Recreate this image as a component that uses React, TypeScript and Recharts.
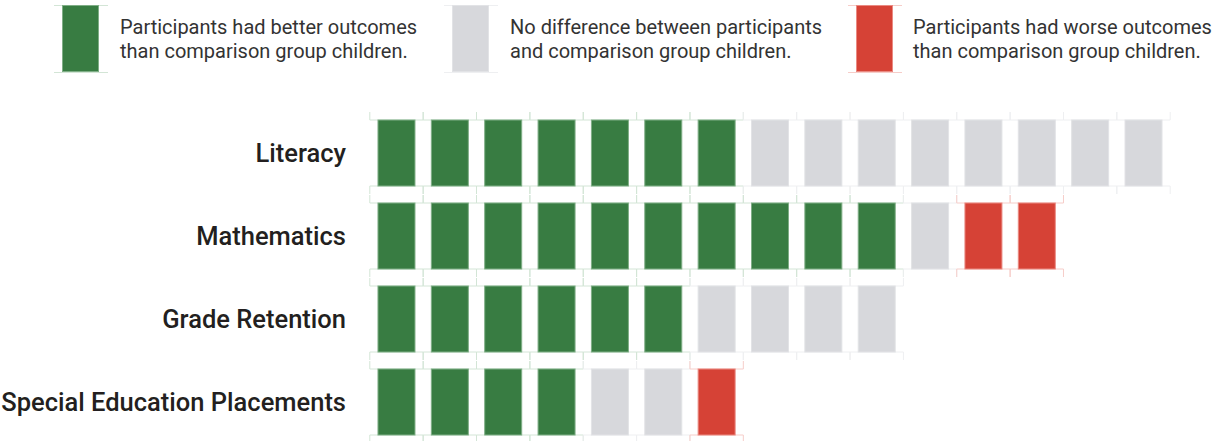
import React from 'react';
import { ScatterChart, Scatter, XAxis, YAxis } from 'recharts';

const categories = ['Literacy', 'Mathematics', 'Grade Retention', 'Special Education Placements'];
const betterCounts = [7, 10, 6, 4];
const noDiffCounts = [8, 1, 4, 2];
const worseCounts = [0, 2, 0, 1];
const legendLines = [
  ['Participants had better outcomes', 'than comparison group children.'],
  ['No difference between participants', 'and comparison group children.'],
  ['Participants had worse outcomes', 'than comparison group children.'],
];

const COLORS = {
  better: { fill: '#387C42', stroke: '#7fae86', faint: '#d3e5d6' },
  noDiff: { fill: '#D7D8DC', stroke: '#e2e3e6', faint: '#eeeff1' },
  worse: { fill: '#D64236', stroke: '#ea8a82', faint: '#f6cdc9' },
};

type Pt = { x: number; y: number };

function buildPoints(kind: 'better' | 'noDiff' | 'worse'): Pt[] {
  const pts: Pt[] = [];
  categories.forEach((_, r) => {
    const start = kind === 'better' ? 0 : kind === 'noDiff' ? betterCounts[r] : betterCounts[r] + noDiffCounts[r];
    const n = kind === 'better' ? betterCounts[r] : kind === 'noDiff' ? noDiffCounts[r] : worseCounts[r];
    for (let i = 0; i < n; i++) pts.push({ x: start + i, y: r });
  });
  return pts;
}

const betterPts = buildPoints('better');
const noDiffPts = buildPoints('noDiff');
const worsePts = buildPoints('worse');

const CELL_W = 37;
const CELL_H = 66;
const SLOT_W = 53.36;

const makeShape = (c: { fill: string; stroke: string; faint: string }) => (props: any) => {
  const { cx, cy } = props;
  if (cx == null || cy == null) return <g />;
  const top = cy - CELL_H / 2;
  const bot = cy + CELL_H / 2;
  const l = cx - SLOT_W / 2;
  const r = cx + SLOT_W / 2;
  return (
    <g>
      <line x1={l} x2={r} y1={top} y2={top} stroke={c.faint} strokeWidth={1} />
      <line x1={l} x2={r} y1={bot} y2={bot} stroke={c.faint} strokeWidth={1} />
      <line x1={l} x2={l} y1={top - 8} y2={top} stroke={c.faint} strokeWidth={1} />
      <line x1={l} x2={l} y1={bot} y2={bot + 8} stroke={c.faint} strokeWidth={1} />
      <line x1={r} x2={r} y1={top - 8} y2={top} stroke={c.faint} strokeWidth={1} />
      <line x1={r} x2={r} y1={bot} y2={bot + 8} stroke={c.faint} strokeWidth={1} />
      <rect
        x={cx - CELL_W / 2}
        y={top}
        width={CELL_W}
        height={CELL_H}
        fill={c.fill}
        stroke={c.stroke}
        strokeWidth={1}
      />
    </g>
  );
};

const CatTick = (props: any) => {
  const { x, y, payload } = props;
  return (
    <text
      x={x}
      y={y}
      textAnchor="end"
      dominantBaseline="central"
      fill="#231f20"
      style={{ fontFamily: 'Roboto, sans-serif', fontSize: 25.5, fontWeight: 500 }}
    >
      {categories[payload.value]}
    </text>
  );
};

const legendItems = [
  { c: COLORS.better, sx: 62, tx: 120 },
  { c: COLORS.noDiff, sx: 452, tx: 510 },
  { c: COLORS.worse, sx: 856, tx: 913 },
];

export default function App() {
  return (
    <div style={{ position: 'relative', width: 1214, height: 441, background: '#fff' }}>
      <style>{'body{margin:0;background:#fff}'}</style>
      {legendItems.map((it, i) => (
        <div key={i}>
          <div style={{ position: 'absolute', left: it.sx - 8, top: 5, width: 54, height: 0, borderTop: `1px solid ${it.c.faint}` }} />
          <div style={{ position: 'absolute', left: it.sx - 8, top: 72, width: 54, height: 0, borderTop: `1px solid ${it.c.faint}` }} />
          <div
            style={{
              position: 'absolute',
              left: it.sx,
              top: 5,
              width: 37,
              height: 67,
              background: it.c.fill,
              boxSizing: 'border-box',
              border: `1px solid ${it.c.stroke}`,
            }}
          />
          <div
            style={{
              position: 'absolute',
              left: it.tx,
              top: 14.5,
              fontFamily: 'Roboto, sans-serif',
              fontSize: 20,
              lineHeight: '24px',
              color: '#333',
              whiteSpace: 'nowrap',
            }}
          >
            {legendLines[i][0]}
            <br />
            {legendLines[i][1]}
          </div>
        </div>
      ))}
      <ScatterChart width={1214} height={441} margin={{ top: 153, right: 43.8, bottom: 39, left: 0 }}>
        <XAxis type="number" dataKey="x" domain={[-0.5, 14.5]} hide />
        <YAxis
          type="number"
          dataKey="y"
          domain={[0, 3]}
          ticks={[0, 1, 2, 3]}
          reversed
          width={369.8}
          axisLine={false}
          tickLine={false}
          tickSize={6}
          tickMargin={17.8}
          tick={<CatTick />}
          interval={0}
        />
        <Scatter data={betterPts} shape={makeShape(COLORS.better)} isAnimationActive={false} />
        <Scatter data={noDiffPts} shape={makeShape(COLORS.noDiff)} isAnimationActive={false} />
        <Scatter data={worsePts} shape={makeShape(COLORS.worse)} isAnimationActive={false} />
      </ScatterChart>
    </div>
  );
}
